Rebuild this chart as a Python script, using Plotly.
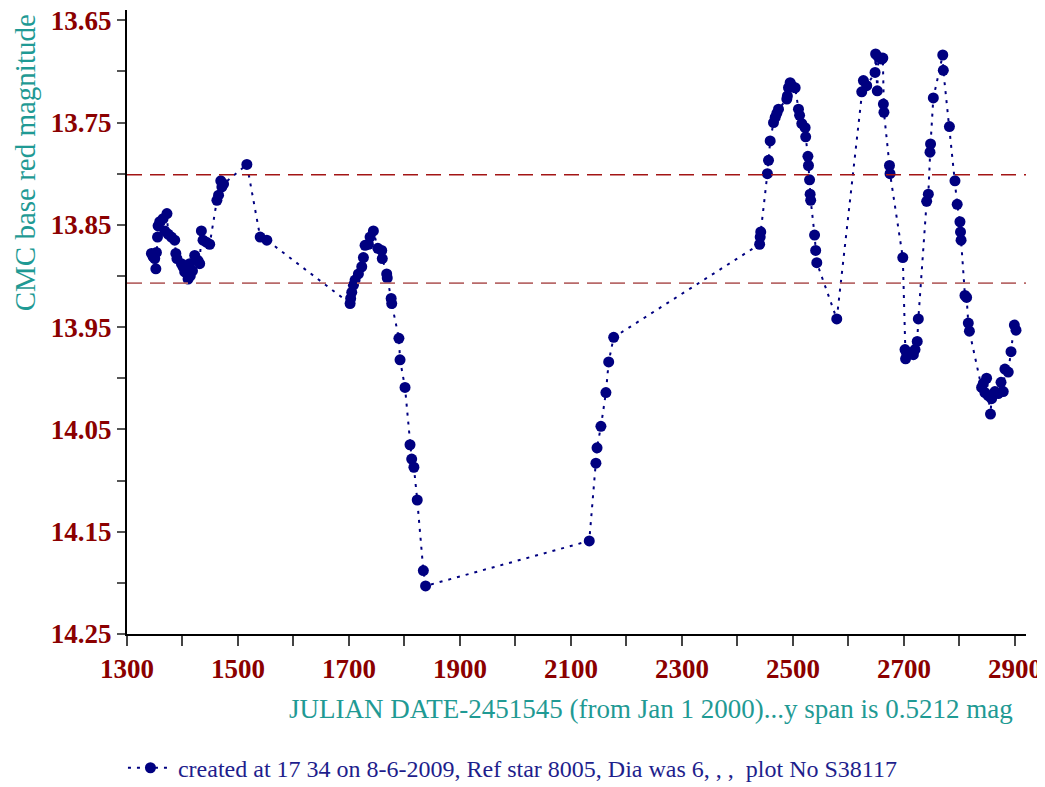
"""
Light curve: CMC base red magnitude vs Julian date
"""

import plotly.graph_objects as go


COLORS = {
    "navy":      "#000080",
    "tick":      "#8B0000",
    "title":     "#1F9A94",
    "legend":    "#1E1E8C",
    "upper":     "#A31515",
    "lower":     "#B86A6A",
    "axis":      "#000000",
}
FONT = "Liberation Serif, Times New Roman, serif"

# Julian date - 2451545
jd = [
    1344, 1347, 1350, 1352, 1353, 1355, 1356, 1359, 1365, 1368, 1372, 1374,
    1380, 1386, 1388, 1390, 1398, 1401, 1404, 1407, 1410, 1413, 1414, 1418,
    1422, 1428, 1431, 1434, 1437, 1443, 1449, 1462, 1465, 1469, 1471, 1474,
    1516, 1540, 1552,
    1702, 1703, 1705, 1708, 1711, 1717, 1723, 1726, 1729, 1735, 1738, 1744,
    1752, 1759, 1760, 1768, 1769, 1776, 1777, 1790, 1792, 1801, 1810, 1813,
    1817, 1823, 1834, 1838,
    2133, 2145, 2147, 2154, 2163, 2168, 2177,
    2440, 2441, 2442, 2454, 2456, 2459, 2465, 2468, 2471, 2474, 2489, 2490,
    2492, 2495, 2498, 2504, 2510, 2512, 2516, 2522, 2523, 2527, 2528, 2530,
    2531, 2532, 2539, 2541, 2543, 2579,
    2624, 2627, 2633, 2648, 2649, 2652, 2654, 2660, 2662, 2663, 2664, 2674,
    2675, 2698, 2702, 2703, 2705, 2717, 2720, 2724, 2726, 2741, 2744, 2747,
    2748, 2753, 2770, 2771, 2782, 2792, 2796, 2801, 2802, 2803, 2810, 2813,
    2816, 2818, 2840, 2843, 2846, 2849, 2852, 2856, 2858, 2864, 2870, 2875,
    2879, 2882, 2888, 2893, 2899, 2902,
]

magnitude = [
    13.878, 13.881, 13.883, 13.893, 13.877, 13.862, 13.851, 13.847, 13.844, 13.856, 13.839, 13.859,
    13.862, 13.865, 13.878, 13.883, 13.888, 13.891, 13.896, 13.890, 13.903, 13.888, 13.900, 13.895,
    13.880, 13.885, 13.888, 13.856, 13.865, 13.867, 13.869, 13.826, 13.821, 13.807, 13.813, 13.810,
    13.791, 13.862, 13.865,
    13.927, 13.922, 13.916, 13.909, 13.904, 13.898, 13.891, 13.882, 13.870, 13.869, 13.862, 13.856,
    13.873, 13.875, 13.883, 13.898, 13.902, 13.922, 13.927, 13.961, 13.982, 14.009, 14.065, 14.079,
    14.087, 14.119, 14.188, 14.203,
    14.159, 14.083, 14.068, 14.047, 14.014, 13.984, 13.960,
    13.869, 13.862, 13.857, 13.800, 13.787, 13.768, 13.750, 13.745, 13.741, 13.737, 13.727, 13.724,
    13.716, 13.711, 13.714, 13.716, 13.737, 13.743, 13.751, 13.755, 13.764, 13.783, 13.792, 13.806,
    13.820, 13.826, 13.860, 13.875, 13.887, 13.942,
    13.720, 13.709, 13.714, 13.701, 13.683, 13.719, 13.686, 13.688, 13.687, 13.732, 13.740, 13.792,
    13.800, 13.882, 13.972, 13.981, 13.976, 13.977, 13.972, 13.964, 13.942, 13.827, 13.820, 13.779,
    13.771, 13.726, 13.684, 13.699, 13.754, 13.807, 13.830, 13.847, 13.857, 13.865, 13.919, 13.921,
    13.946, 13.954, 14.009, 14.005, 14.014, 14.000, 14.017, 14.035, 14.020, 14.013, 14.015, 14.004,
    14.013, 13.991, 13.994, 13.974, 13.948, 13.953,
]

limit_levels = [13.801, 13.907]

x_ticks = list(range(1300, 3000, 100))
x_labels = [str(v) if (v - 1300) % 200 == 0 else "" for v in x_ticks]
y_ticks = [round(13.65 + 0.05 * i, 2) for i in range(13)]
y_labels = [f"{v:.2f}" if i % 2 == 0 else "" for i, v in enumerate(y_ticks)]

legend_name = "created at 17 34 on 8-6-2009, Ref star 8005, Dia was 6, , ,  plot No S38117"

fig = go.Figure()
fig.add_trace(go.Scatter(
    x=jd, y=magnitude,
    mode="lines+markers",
    line=dict(color=COLORS["navy"], width=2, dash="3px,6px"),
    marker=dict(color=COLORS["navy"], size=11),
    name=legend_name,
))

for lvl, col in zip(limit_levels, [COLORS["upper"], COLORS["lower"]]):
    fig.add_hline(y=lvl, line_dash="15px,8px", line_color=col, line_width=1.6)

# page body has an 8px margin, so the figure is sized/offset for that
fig.update_layout(
    width=1037, height=779,
    paper_bgcolor="white",
    plot_bgcolor="white",
    margin=dict(l=119, r=19, t=2, b=153, autoexpand=False),
    font=dict(family=FONT, size=24, color=COLORS["legend"]),
    showlegend=True,
    legend=dict(
        x=-0.0045, y=-0.215, xanchor="left", yanchor="middle",
        bgcolor="rgba(0,0,0,0)",
        font=dict(family=FONT, size=24, color=COLORS["legend"]),
        itemwidth=45,
    ),
    xaxis=dict(
        range=[1300, 2920], automargin=False, ticklabeloverflow="allow",
        tickvals=x_ticks, ticktext=x_labels,
        ticks="outside", ticklen=10, tickwidth=1.5, tickcolor="#444444",
        showline=True, linecolor=COLORS["axis"], linewidth=2,
        showgrid=False, zeroline=False,
        tickfont=dict(family=FONT, size=27, color=COLORS["tick"], weight="bold"),
    ),
    yaxis=dict(
        range=[14.25, 13.64], automargin=False, ticklabeloverflow="allow",
        tickvals=y_ticks, ticktext=y_labels,
        ticks="outside", ticklen=8, tickwidth=1.5, tickcolor="#555555",
        showline=True, linecolor=COLORS["axis"], linewidth=2,
        showgrid=False, zeroline=False,
        tickfont=dict(family=FONT, size=27, color=COLORS["tick"], weight="bold"),
    ),
)

fig.add_annotation(
    text="CMC base red magnitude",
    xref="paper", yref="paper", x=-0.1135, y=0.997,
    xanchor="center", yanchor="top", textangle=-90, showarrow=False,
    font=dict(family=FONT, size=29, color=COLORS["title"]),
)
fig.add_annotation(
    text="JULIAN DATE-2451545 (from Jan 1 2000)...y span is 0.5212 mag",
    xref="paper", yref="paper", x=0.988, y=-0.120,
    xanchor="right", yanchor="middle", showarrow=False,
    font=dict(family=FONT, size=27, color=COLORS["title"]),
)

fig.write_html("out.html")
